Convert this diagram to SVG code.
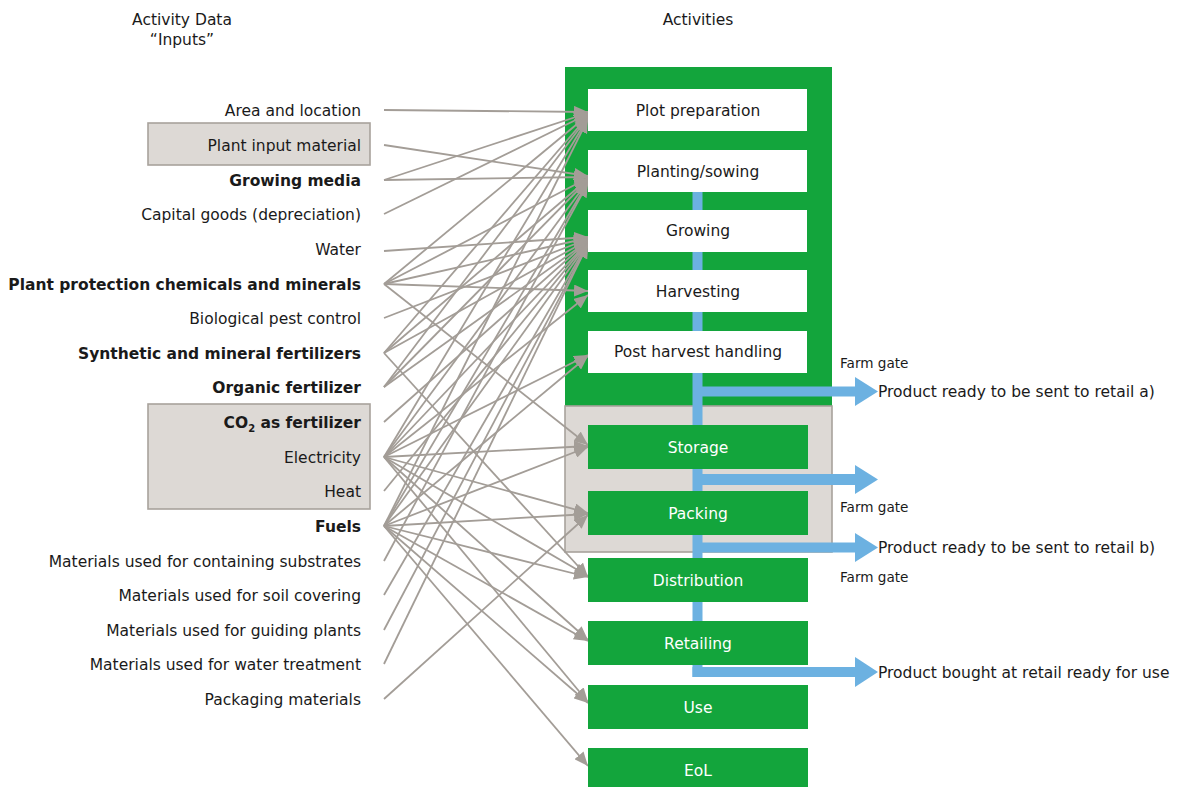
<svg xmlns="http://www.w3.org/2000/svg" width="1180" height="787" viewBox="0 0 1180 787">
<style>
text{font-family:"DejaVu Sans","Noto Sans",sans-serif;font-size:15.5px;fill:#1a1a1a}
.in{text-anchor:end}
.b{font-weight:bold}
.c{text-anchor:middle}
.w{fill:#ffffff}
.sm{font-size:13.6px}
.e{stroke:#a39d97;stroke-width:1.8;fill:none;marker-end:url(#ah)}
.wb{fill:#ffffff}
.gb{fill:#13a53c}
.beige{fill:#ddd9d5;stroke:#a8a29c;stroke-width:1.6}
.blue{fill:#6cb1e1}
</style>
<defs>
<marker id="ah" markerUnits="userSpaceOnUse" markerWidth="16" markerHeight="12" refX="14" refY="6" orient="auto">
<path d="M0,0 L14,6 L0,12 Z" fill="#a39d97"/>
</marker>
</defs>

<g id="headers">
<text class="c" x="182" y="25">Activity Data</text>
<text class="c" x="182" y="45">“Inputs”</text>
<text class="c" x="698" y="25">Activities</text>
</g>

<g id="phase-boxes">
<rect x="565" y="67" width="267" height="339" class="gb"/>
<rect x="565" y="406" width="267" height="146" class="beige"/>
</g>

<g id="flow">
<rect x="692.5" y="191" width="10" height="486" class="blue"/>
<rect x="697" y="386.5" width="160" height="10" class="blue"/>
<path d="M855,377 L878,391.5 L855,406 Z" class="blue"/>
<rect x="697" y="474" width="160" height="11" class="blue"/>
<path d="M855,465 L878,479.5 L855,494 Z" class="blue"/>
<rect x="697" y="542.5" width="160" height="10" class="blue"/>
<path d="M855,533 L878,547.5 L855,562 Z" class="blue"/>
<rect x="692.5" y="667" width="164" height="10" class="blue"/>
<path d="M855,657 L878,672 L855,687 Z" class="blue"/>
</g>

<g id="input-boxes">
<rect x="148" y="123" width="222" height="42" class="beige"/>
<rect x="148" y="404" width="222" height="105" class="beige"/>
</g>

<g id="inputs">
<text class="in" x="361" y="116">Area and location</text>
<text class="in" x="361" y="151">Plant input material</text>
<text class="in b" x="361" y="186">Growing media</text>
<text class="in" x="361" y="220">Capital goods (depreciation)</text>
<text class="in" x="361" y="255">Water</text>
<text class="in b" x="361" y="290">Plant protection chemicals and minerals</text>
<text class="in" x="361" y="324">Biological pest control</text>
<text class="in b" x="361" y="359">Synthetic and mineral fertilizers</text>
<text class="in b" x="361" y="393">Organic fertilizer</text>
<text class="in b" x="361" y="428">CO<tspan font-size="10" dy="4">2</tspan><tspan dy="-4"> as fertilizer</tspan></text>
<text class="in" x="361" y="463">Electricity</text>
<text class="in" x="361" y="497">Heat</text>
<text class="in b" x="361" y="532">Fuels</text>
<text class="in" x="361" y="567">Materials used for containing substrates</text>
<text class="in" x="361" y="601">Materials used for soil covering</text>
<text class="in" x="361" y="636">Materials used for guiding plants</text>
<text class="in" x="361" y="670">Materials used for water treatment</text>
<text class="in" x="361" y="705">Packaging materials</text>
</g>

<g id="connectors">
<line class="e" x1="384" y1="110" x2="588" y2="112"/>
<line class="e" x1="384" y1="145" x2="588" y2="176"/>
<line class="e" x1="384" y1="180" x2="588" y2="113"/>
<line class="e" x1="384" y1="180" x2="588" y2="177"/>
<line class="e" x1="384" y1="214" x2="588" y2="114"/>
<line class="e" x1="384" y1="251" x2="588" y2="237"/>
<line class="e" x1="384" y1="284" x2="588" y2="115"/>
<line class="e" x1="384" y1="284" x2="588" y2="178"/>
<line class="e" x1="384" y1="284" x2="588" y2="238"/>
<line class="e" x1="384" y1="284" x2="588" y2="291"/>
<line class="e" x1="384" y1="284" x2="588" y2="445"/>
<line class="e" x1="384" y1="318" x2="588" y2="239"/>
<line class="e" x1="384" y1="353" x2="588" y2="116"/>
<line class="e" x1="384" y1="353" x2="588" y2="179"/>
<line class="e" x1="384" y1="353" x2="588" y2="240"/>
<line class="e" x1="384" y1="353" x2="588" y2="577"/>
<line class="e" x1="384" y1="387" x2="588" y2="117"/>
<line class="e" x1="384" y1="387" x2="588" y2="180"/>
<line class="e" x1="384" y1="387" x2="588" y2="241"/>
<line class="e" x1="384" y1="422" x2="588" y2="241"/>
<line class="e" x1="384" y1="457" x2="588" y2="118"/>
<line class="e" x1="384" y1="457" x2="588" y2="181"/>
<line class="e" x1="384" y1="457" x2="588" y2="242"/>
<line class="e" x1="384" y1="457" x2="588" y2="295"/>
<line class="e" x1="384" y1="457" x2="588" y2="355"/>
<line class="e" x1="384" y1="457" x2="588" y2="446"/>
<line class="e" x1="384" y1="457" x2="588" y2="513"/>
<line class="e" x1="384" y1="457" x2="588" y2="576"/>
<line class="e" x1="384" y1="457" x2="588" y2="640"/>
<line class="e" x1="384" y1="457" x2="588" y2="702"/>
<line class="e" x1="384" y1="491" x2="588" y2="242"/>
<line class="e" x1="384" y1="526" x2="588" y2="119"/>
<line class="e" x1="384" y1="526" x2="588" y2="182"/>
<line class="e" x1="384" y1="526" x2="588" y2="243"/>
<line class="e" x1="384" y1="526" x2="588" y2="356"/>
<line class="e" x1="384" y1="526" x2="588" y2="447"/>
<line class="e" x1="384" y1="526" x2="588" y2="514"/>
<line class="e" x1="384" y1="526" x2="588" y2="577"/>
<line class="e" x1="384" y1="526" x2="588" y2="641"/>
<line class="e" x1="384" y1="526" x2="588" y2="703"/>
<line class="e" x1="384" y1="526" x2="588" y2="766"/>
<line class="e" x1="384" y1="561" x2="588" y2="183"/>
<line class="e" x1="384" y1="595" x2="588" y2="243"/>
<line class="e" x1="384" y1="630" x2="588" y2="244"/>
<line class="e" x1="384" y1="664" x2="588" y2="244"/>
<line class="e" x1="384" y1="699" x2="588" y2="515"/>
</g>

<g id="plot-preparation"><rect x="588" y="89" width="219" height="42" class="wb"/><text class="c" x="698" y="116">Plot preparation</text></g>
<g id="planting-sowing"><rect x="588" y="150" width="219" height="42" class="wb"/><text class="c" x="698" y="177">Planting/sowing</text></g>
<g id="growing"><rect x="588" y="210" width="219" height="42" class="wb"/><text class="c" x="698" y="236">Growing</text></g>
<g id="harvesting"><rect x="588" y="270" width="219" height="42" class="wb"/><text class="c" x="698" y="297">Harvesting</text></g>
<g id="post-harvest"><rect x="588" y="331" width="219" height="42" class="wb"/><text class="c" x="698" y="357">Post harvest handling</text></g>
<g id="storage"><rect x="588" y="425" width="220" height="44" class="gb"/><text class="c w" x="698" y="453">Storage</text></g>
<g id="packing"><rect x="588" y="491" width="220" height="44" class="gb"/><text class="c w" x="698" y="519">Packing</text></g>
<g id="distribution"><rect x="588" y="558" width="220" height="44" class="gb"/><text class="c w" x="698" y="586">Distribution</text></g>
<g id="retailing"><rect x="588" y="621" width="220" height="44" class="gb"/><text class="c w" x="698" y="649">Retailing</text></g>
<g id="use"><rect x="588" y="685" width="220" height="44" class="gb"/><text class="c w" x="698" y="713">Use</text></g>
<g id="eol"><rect x="588" y="748" width="220" height="44" class="gb"/><text class="c w" x="698" y="776">EoL</text></g>

<g id="outputs">
<text class="sm" x="840" y="368">Farm gate</text>
<text x="878" y="397">Product ready to be sent to retail a)</text>
<text class="sm" x="840" y="512">Farm gate</text>
<text x="878" y="553">Product ready to be sent to retail b)</text>
<text class="sm" x="840" y="582">Farm gate</text>
<text x="878" y="678">Product bought at retail ready for use</text>
</g>
</svg>
